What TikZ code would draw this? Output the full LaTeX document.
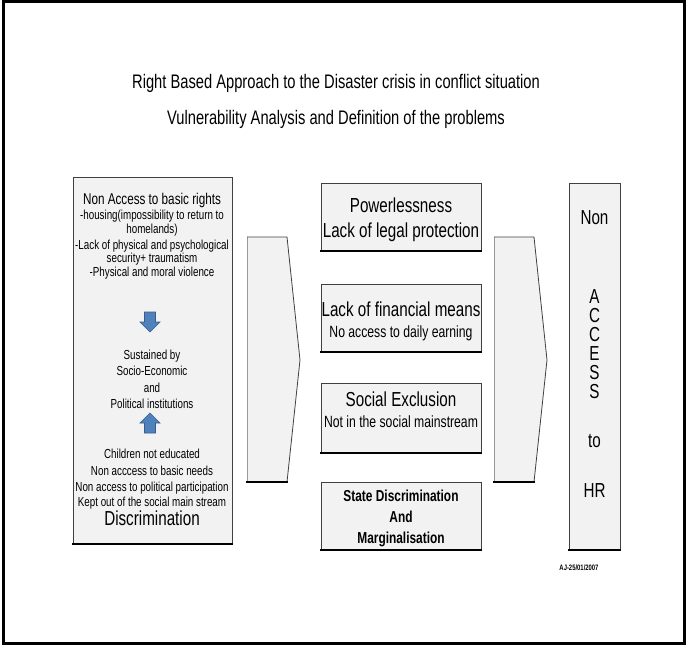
\documentclass[tikz,border=0pt]{standalone}
\usepackage{fontspec}
\setmainfont{Liberation Sans}[FakeStretch=0.75]
\usetikzlibrary{fit}
\definecolor{panelgray}{HTML}{F2F2F2}
\definecolor{arrowblue}{HTML}{4F81BD}
\definecolor{arrowedge}{HTML}{385D8A}
\tikzset{
  panel/.style={fill=panelgray, draw=black!75, line width=0.6pt, inner sep=0pt},
  shadowline/.style={line width=1.6pt, line cap=rect},
  txt/.style={inner sep=0pt, text height=0.72em, text depth=0.2em, align=center, yshift=-2.2pt},
  bigtxt/.style={txt, font=\fontsize{15.2}{17}\selectfont},
  headtxt/.style={txt, font=\fontsize{11.7}{13}\selectfont},
  smalltxt/.style={txt, font=\fontsize{9.8}{11}\selectfont},
  midtxt/.style={txt, font=\fontsize{12.2}{14}\selectfont},
  boldtxt/.style={txt, font=\bfseries\fontsize{11.9}{14}\selectfont},
  titletxt/.style={txt, font=\fontsize{14.7}{17}\selectfont},
  bluearrow/.style={fill=arrowblue, draw=arrowedge, line width=0.5pt}
}
\begin{document}
\begin{tikzpicture}[x=0.75pt, y=-0.75pt]
  \useasboundingbox (0,0) rectangle (688,646);
  \draw[line width=2.25pt] (3.5,1.5) rectangle (684,643);
  % titles
  \node[titletxt] (title1) at (336,82) {Right Based Approach to the Disaster crisis in conflict situation};
  \node[titletxt] (title2) at (336,118) {Vulnerability Analysis and Definition of the problems};
  % left panel
  \node[panel, fit={(73,177) (232,544)}] (rights) {};
  \draw[shadowline] (rights.south west) -- (rights.south east);
  \node[headtxt] (nonaccess) at (152,198) {Non Access to basic rights};
  \foreach \ty/\tline [count=\k] in {213/-housing(impossibility to return to, 227/homelands),
      243/-Lack of physical and psychological, 256/security+ traumatism,
      270/-Physical and moral violence, 353/Sustained by, 369/Socio-Economic,
      386/and, 402/Political institutions, 452/Children not educated,
      469/Non acccess to basic needs, 485/Non access to political participation,
      500/Kept out of the social main stream} {
    \node[smalltxt] (line\k) at (152,\ty) {\tline};
  }
  \node[bigtxt] (discrim) at (152,519) {Discrimination};
  \draw[bluearrow] (144.5,312) -- (155.5,312) -- (155.5,322) -- (160,322) -- (150,332)
    -- (140,322) -- (144.5,322) -- cycle;
  \draw[bluearrow] (144.5,433) -- (155.5,433) -- (155.5,423) -- (160,423) -- (150,413)
    -- (140,423) -- (144.5,423) -- cycle;
  % chevrons
  \foreach \x in {247,494} {
    \begin{scope}[shift={(\x,0)}]
      \fill[panelgray] (0,237) -- (40,237) -- (53,360) -- (40,482) -- (0,482) -- cycle;
      \draw[black!40, line width=0.6pt] (0,237) -- (0,482);
      \draw[black!75, line width=0.6pt] (0,237) -- (40,237) -- (53,360) -- (40,482);
      \draw[shadowline] (0,482) -- (40,482);
    \end{scope}
  }
  % middle panels
  \foreach \ptop/\pbot/\pname in {183/251/power, 284/352/money, 383/453/exclusion, 482/550/state} {
    \node[panel, fit={(321,\ptop) (481,\pbot)}] (\pname) {};
    \draw[shadowline] (\pname.south west) -- (\pname.south east);
  }
  \node[bigtxt] (powerless) at (401,206) {Powerlessness};
  \node[bigtxt] (legal) at (401,231) {Lack of legal protection};
  \node[bigtxt] (financial) at (401,310) {Lack of financial means};
  \node[midtxt] (earning) at (401,331) {No access to daily earning};
  \node[bigtxt] (social) at (401,400) {Social Exclusion};
  \node[midtxt] (mainstream) at (401,421) {Not in the social mainstream};
  \node[boldtxt] (statedisc) at (401,495) {State Discrimination};
  \node[boldtxt] (and) at (401,516) {And};
  \node[boldtxt] (margin) at (401,537) {Marginalisation};
  % right panel
  \node[panel, fit={(569,183) (620,550)}] (hr) {};
  \draw[shadowline] (hr.south west) -- (hr.south east);
  \foreach \ty/\tword [count=\k] in {218/Non, 297/A, 316/C, 335/C, 354/E, 373/S, 392/S, 441/to, 491/HR} {
    \node[bigtxt] (word\k) at (594.5,\ty) {\tword};
  }
  \node[txt, font=\bfseries\fontsize{5.9}{7}\selectfont] (stamp) at (579,564) {AJ-25/01/2007};
\end{tikzpicture}
\end{document}
